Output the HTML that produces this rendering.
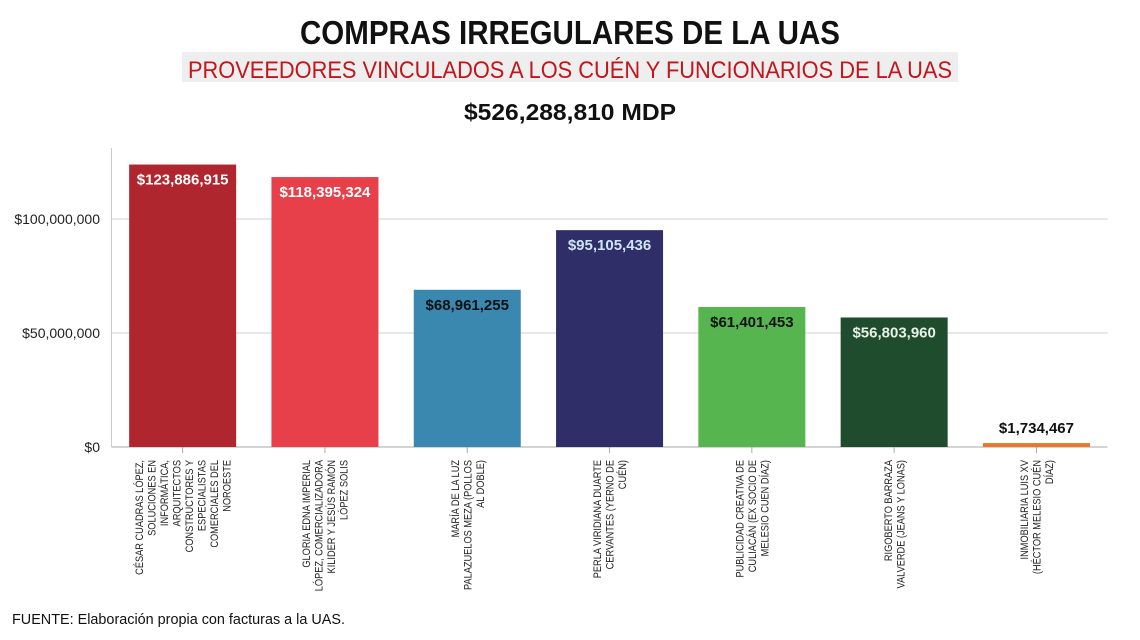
<!DOCTYPE html>
<html><head><meta charset="utf-8"><style>
body{margin:0;width:1140px;height:640px;background:#fff;overflow:hidden;font-family:"Liberation Sans",sans-serif;}
svg{display:block}
</style></head><body>
<svg width="1140" height="640">
<text x="570" y="44" text-anchor="middle" font-size="33" font-weight="bold" fill="#111" textLength="540" lengthAdjust="spacingAndGlyphs">COMPRAS IRREGULARES DE LA UAS</text>
<rect x="182" y="52" width="776" height="30" fill="#eeeeee"/>
<text x="570" y="78" text-anchor="middle" font-size="24" fill="#c0161c" textLength="764" lengthAdjust="spacingAndGlyphs">PROVEEDORES VINCULADOS A LOS CUÉN Y FUNCIONARIOS DE LA UAS</text>
<text x="570" y="120" text-anchor="middle" font-size="23" font-weight="bold" fill="#111" textLength="212" lengthAdjust="spacingAndGlyphs">$526,288,810 MDP</text>
<g id="grid"></g><g id="bars"></g><g id="xl"></g>
<text x="12" y="624" font-size="14.5" fill="#111" textLength="333" lengthAdjust="spacingAndGlyphs">FUENTE: Elaboración propia con facturas a la UAS.</text>
</svg>
<script>
const categories=[
["CÉSAR CUADRAS LÓPEZ,","SOLUCIONES EN","INFORMÁTICA,","ARQUITECTOS","CONSTRUCTORES Y","ESPECIALISTAS","COMERCIALES DEL","NOROESTE"],
["GLORIA EDNA IMPERIAL","LÓPEZ, COMERCIALIZADORA","KILIDER Y JESÚS RAMÓN","LÓPEZ SOLIS"],
["MARÍA DE LA LUZ","PALAZUELOS MEZA (POLLOS","AL DOBLE)"],
["PERLA VIRIDIANA DUARTE","CERVANTES (YERNO DE","CUÉN)"],
["PUBLICIDAD CREATIVA DE","CULIACÁN (EX SOCIO DE","MELESIO CUEN DÍAZ)"],
["RIGOBERTO BARRAZA","VALVERDE (JEANS Y LONAS)"],
["INMOBILIARIA LUIS XV","(HÉCTOR MELESIO CUÉN","DÍAZ)"]];
const values=[123886915,118395324,68961255,95105436,61401453,56803960,1734467];
const valueLabels=["$123,886,915","$118,395,324","$68,961,255","$95,105,436","$61,401,453","$56,803,960","$1,734,467"];
const ticks=[0,50000000,100000000];
const tickLabels=["$0","$50,000,000","$100,000,000"];
const colors=["#b0262f","#e8404a","#3a87b0","#2f2e68","#57b54f","#1f4c2c","#e8782c"];
const labelColors=["#fff","#fff","#111","#cfe6f5","#111","#e8f0e8","#111"];
const NS="http://www.w3.org/2000/svg";
const L=111.5,R=1107.6,Y0=447,PX=114/50000000;
const y=v=>Y0-v*PX;
const step=(R-L)/categories.length;
const cx=i=>L+step*(i+0.5);
function mk(t,a,p){const e=document.createElementNS(NS,t);for(const k in a)e.setAttribute(k,a[k]);p.appendChild(e);return e;}
const g=document.getElementById('grid'),b=document.getElementById('bars'),xl=document.getElementById('xl');
ticks.forEach((t,i)=>{
 const ln=mk('line',{x1:L,x2:R,y1:y(t),y2:y(t),stroke:i?"#d0d0d0":"#aaa","stroke-width":1},g);
 
 
 const tx=mk('text',{x:100,y:y(t)+5,"text-anchor":"end","font-size":14,fill:"#222"},g);
 tx.textContent=tickLabels[i];
 
 
});
const ax=mk('line',{x1:L,x2:L,y1:148,y2:Y0,stroke:"#ccc"},g);


values.forEach((v,i)=>{
 const w=107,x=cx(i)-w/2,top=y(v),h=Math.max(Y0-top,3);
 const r=mk('rect',{x:x,y:Y0-h,width:w,height:h,fill:colors[i]},b);
 
 
 const inside=h>40;
 const t=mk('text',{x:cx(i),y:inside?top+20:top-10,"text-anchor":"middle","font-size":15,"font-weight":"bold",fill:labelColors[i]},b);
 t.textContent=valueLabels[i];
 
 
 const tk=mk('line',{x1:cx(i),x2:cx(i),y1:Y0,y2:Y0+6,stroke:"#aaa"},xl);
 
 
 const lines=categories[i],n=lines.length,lh=12.5;
 lines.forEach((s,j)=>{
  const lx=cx(i)-(n-1)*lh/2+j*lh+4;
  const tt=mk('text',{x:0,y:0,"text-anchor":"end","font-size":11,fill:"#222",transform:`translate(${lx},460) rotate(-90) scale(0.84,1)`},xl);
  tt.textContent=s;
  
  
 });
});
</script>
</body></html>
